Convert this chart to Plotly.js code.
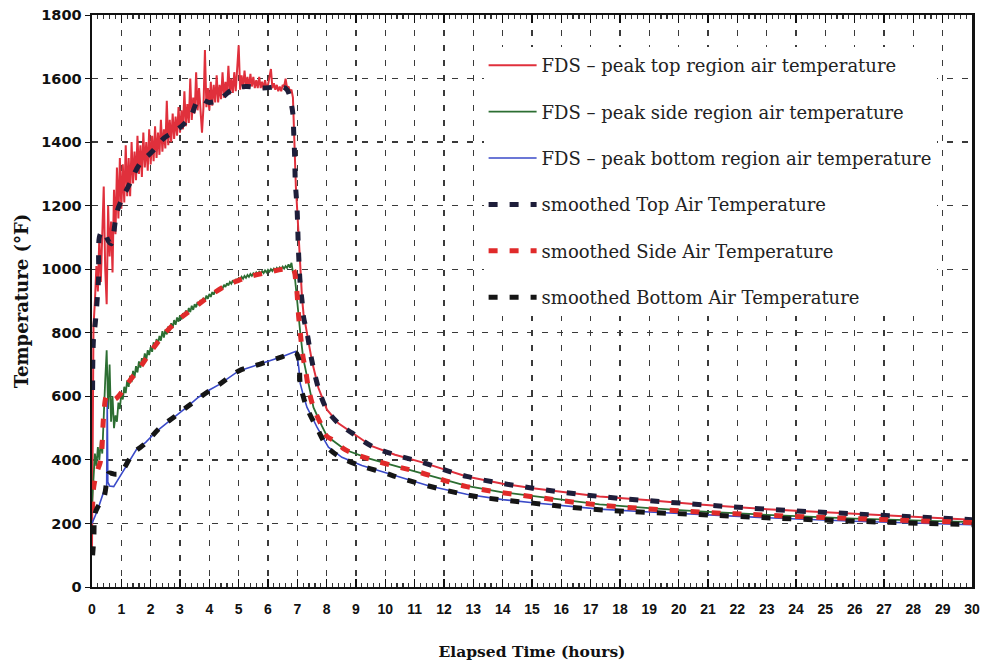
<!DOCTYPE html>
<html>
<head>
<meta charset="utf-8">
<script src="https://cdn.plot.ly/plotly-3.0.1.min.js"></script>
<style>html,body{margin:0;padding:0;background:#fff;}#chart{width:984px;height:664px;}</style>
</head>
<body>
<div id="chart"></div>
<script>
// Sample times (hours) for the high-resolution early part of the FDS records
const tEarly = [0,0.05,0.1,0.15,0.2,0.25,0.3,0.35,0.4,0.45,0.5,0.55,0.6,0.65,0.7,0.75,0.8,0.85,0.9,0.95,
1,1.05,1.1,1.15,1.2,1.25,1.3,1.35,1.4,1.45,1.5,1.55,1.6,1.65,1.7,1.75,1.8,1.85,1.9,1.95,
2,2.05,2.1,2.15,2.2,2.25,2.3,2.35,2.4,2.45,2.5,2.55,2.6,2.65,2.7,2.75,2.8,2.85,2.9,2.95,
3,3.05,3.1,3.15,3.2,3.25,3.3,3.35,3.4,3.45,3.5,3.55,3.6,3.65,3.7,3.75,3.8,3.85,3.9,3.95,
4,4.05,4.1,4.15,4.2,4.25,4.3,4.35,4.4,4.45,4.5,4.55,4.6,4.65,4.7,4.75,4.8,4.85,4.9,4.95,
5,5.05,5.1,5.15,5.2,5.25,5.3,5.35,5.4,5.45,5.5,5.55,5.6,5.65,5.7,5.75,5.8,5.85,5.9,5.95,
6,6.05,6.1,6.15,6.2,6.25,6.3,6.35,6.4,6.45,6.5,6.55,6.6,6.65,6.7,6.75,6.8,6.85];

// FDS peak top region air temperature (°F)
const topEarly = [120,820,900,1010,930,1100,960,1150,1260,1000,890,1200,1040,1150,990,1250,1110,1320,1160,1350,
1190,1330,1210,1390,1230,1350,1230,1400,1270,1370,1280,1420,1300,1390,1290,1430,1320,1400,1310,1440,
1330,1420,1340,1450,1350,1430,1360,1470,1370,1440,1380,1530,1390,1470,1400,1490,1410,1480,1420,1510,
1430,1500,1440,1560,1450,1520,1460,1600,1470,1540,1490,1620,1500,1570,1490,1430,1510,1690,1510,1570,
1500,1590,1515,1580,1525,1610,1525,1580,1535,1620,1540,1590,1545,1640,1550,1600,1555,1620,1560,1650,
1705,1565,1610,1570,1625,1575,1605,1570,1615,1575,1605,1570,1595,1570,1605,1570,1590,1565,1595,1570,
1580,1605,1630,1570,1585,1565,1580,1560,1575,1560,1580,1575,1600,1570,1575,1560,1565,1540];
const topLateT = [6.88,6.91,6.95,7.0,7.05,7.1,7.16,7.21,7.33,7.5,7.72,8.01,8.4,8.86,9.54,10.33,11.23,12.77,14,15.03,16,17.3,19,20.7,23,26,30];
const topLateV = [1450,1350,1260,1180,1090,1000,910,860,800,710,626,558,515,485,443,416,393,348,325,311,300,285,273,260,245,230,212];

// FDS peak side region air temperature (°F)
const sideEarly = [260,340,420,380,440,400,460,420,560,650,745,560,700,520,600,500,540,520,580,560,
610,590,630,610,650,630,665,645,680,660,695,675,710,690,720,705,735,715,745,730,
755,740,770,750,780,765,790,775,805,785,810,795,820,805,830,815,840,825,848,835,
855,842,862,850,870,858,878,865,885,872,890,880,897,887,903,893,910,900,917,907,
922,913,928,920,934,926,940,932,946,938,951,944,956,949,960,954,965,958,969,962,
972,966,976,970,979,973,982,976,985,979,987,982,990,984,992,986,994,988,996,990,
998,992,1000,994,1002,996,1004,998,1006,1000,1008,1002,1010,1004,1015,1005,1020,990];
const sideLateT = [6.9,6.95,7.0,7.05,7.1,7.2,7.27,7.38,7.44,7.55,7.84,8.01,8.3,8.63,9.42,10.22,11.12,12.77,14,15.03,16,17.3,19,20.7,23,26,30];
const sideLateV = [990,940,890,846,800,720,689,630,610,565,506,475,455,432,405,384,362,318,298,286,275,260,248,238,227,215,204];

// FDS peak bottom region air temperature (°F)
const botT = [0,0.05,0.1,0.2,0.3,0.4,0.5,0.52,0.54,0.6,0.74,0.9,1.07,1.3,1.53,1.83,2.2,2.6,3.0,3.19,3.6,4.0,4.33,4.7,5.0,5.5,6.0,6.5,6.93,7.0,7.05,7.1,7.2,7.33,7.5,7.67,8.06,8.52,9.2,9.99,10.5,11.5,12.77,14,15.03,16,17.3,19,20.7,23,26,30];
const botV = [200,215,222,245,275,300,316,590,330,318,316,340,369,400,435,455,490,520,548,563,595,620,637,662,680,695,710,725,741,725,690,640,605,565,535,503,440,408,382,360,345,318,292,275,265,256,245,236,228,218,207,196];

// Smoothed curves
const smTopT = [0.02,0.05,0.11,0.22,0.28,0.4,0.55,0.65,0.85,1.04,1.33,1.61,2.06,2.46,2.91,3.36,3.65,4.0,4.33,4.78,5.23,5.8,6.59,6.82,6.88,6.91,6.93,6.99,7.04,7.1,7.16,7.21,7.33,7.5,7.72,8.01,8.4,8.86,9.54,10.33,11.23,12.77,15.03,17.3,20.35,23,26,30];
const smTopV = [620,780,829,965,1110,1120,1090,1080,1180,1224,1277,1329,1371,1413,1439,1481,1535,1525,1533,1565,1575,1570,1570,1507,1423,1350,1277,1192,1056,951,900,850,800,710,626,558,515,485,443,416,393,348,311,285,262,245,230,212];

const smSideT = [0.02,0.06,0.2,0.3,0.4,0.5,0.6,0.75,0.9,1.1,1.3,1.65,2,2.5,3,3.5,4,4.5,5,5.5,6,6.5,6.85,6.95,7.05,7.1,7.2,7.27,7.38,7.55,7.84,8.0,8.3,8.63,9.42,10.22,11.12,12.77,15.03,17.3,20.7,23,26,30];
const smSideV = [240,316,370,400,540,600,600,590,600,625,651,693,740,800,845,880,915,945,965,980,990,1000,1000,960,846,800,720,689,626,565,506,475,458,432,404,383,362,316,284,258,236,226,215,203];

const smBotT = [0.02,0.06,0.11,0.25,0.4,0.5,0.57,0.8,0.96,1.41,1.83,2.3,2.8,3.19,3.8,4.33,5,5.5,6.02,6.5,6.93,7.04,7.1,7.2,7.33,7.67,8.06,8.52,9.2,9.99,10.5,12.77,15.03,17.3,20.7,23,26,30];
const smBotV = [100,150,233,260,280,330,358,355,358,421,453,500,535,563,605,637,680,695,710,725,738,720,637,600,563,500,437,406,380,359,343,290,264,243,228,218,207,196];

const seriesNames = [
  "FDS \u2013 peak top region air temperature",
  "FDS \u2013 peak side region air temperature",
  "FDS \u2013 peak bottom region air temperature",
  "smoothed Top Air Temperature",
  "smoothed Side Air Temperature",
  "smoothed Bottom Air Temperature"
];
const xTickVals = [0,1,2,3,4,5,6,7,8,9,10,11,12,13,14,15,16,17,18,19,20,21,22,23,24,25,26,27,28,29,30];
const yTickVals = [0,200,400,600,800,1000,1200,1400,1600,1800];

const smDash = "9px,12px";
const traces = [
  {x: tEarly.concat(topLateT), y: topEarly.concat(topLateV), name: seriesNames[0], legendgroup: "a",
   mode: "lines", line: {color: "#e0303c", width: 2}},
  {x: tEarly.concat(sideLateT), y: sideEarly.concat(sideLateV), name: seriesNames[1], legendgroup: "b",
   mode: "lines", line: {color: "#2c6e32", width: 1.8}},
  {x: botT, y: botV, name: seriesNames[2], legendgroup: "c",
   mode: "lines", line: {color: "#3a4ac8", width: 1.6}},
  {x: smTopT, y: smTopV, name: seriesNames[3], legendgroup: "d",
   mode: "lines", line: {color: "#1e1e3a", width: 5, dash: smDash, shape: "spline"}},
  {x: smSideT, y: smSideV, name: seriesNames[4], legendgroup: "e",
   mode: "lines", line: {color: "#e02a2a", width: 5, dash: smDash, shape: "spline"}},
  {x: smBotT, y: smBotV, name: seriesNames[5], legendgroup: "f",
   mode: "lines", line: {color: "#151515", width: 5, dash: smDash, shape: "spline"}}
];

const layout = {
  width: 984, height: 664,
  margin: {l: 92, r: 12, t: 15, b: 77},
  paper_bgcolor: "#fff", plot_bgcolor: "#fff",
  showlegend: true,
  legend: {
    x: 0.445, y: 0.944, xanchor: "left", yanchor: "top",
    bgcolor: "#fff", borderwidth: 0,
    font: {family: "DejaVu Serif", size: 18, color: "#222"},
    tracegroupgap: 20, itemwidth: 48
  },
  xaxis: {
    range: [0, 30], tickvals: xTickVals, ticktext: xTickVals.map(String),
    showgrid: true, gridcolor: "#3a3a3a", gridwidth: 1.3, griddash: "6px,9px",
    zeroline: false, showline: true, linecolor: "#111", linewidth: 2, mirror: "ticks",
    ticks: "inside", ticklen: 8, tickwidth: 1.2, tickcolor: "#111",
    minor: {dtick: 0.2, tick0: 0, ticks: "inside", ticklen: 4, tickcolor: "#333", showgrid: false},
    tickfont: {family: "Liberation Sans", size: 14, weight: "bold", color: "#111"},
    ticklabelstandoff: 8,
    title: {text: "Elapsed Time (hours)", standoff: 30,
            font: {family: "DejaVu Serif", size: 15.5, weight: "bold", color: "#111"}}
  },
  yaxis: {
    range: [0, 1800], tickvals: yTickVals,
    showgrid: true, gridcolor: "#3a3a3a", gridwidth: 1.3, griddash: "6px,9px",
    zeroline: false, showline: true, linecolor: "#111", linewidth: 2.5, mirror: true,
    ticks: "outside", ticklen: 5, tickcolor: "#111",
    tickfont: {family: "DejaVu Sans", size: 14.5, weight: "bold", color: "#111"},
    title: {text: "Temperature (\u00b0F)", standoff: 8,
            font: {family: "DejaVu Serif", size: 18, weight: "bold", color: "#111"}}
  }
};

Plotly.newPlot("chart", traces, layout, {staticPlot: true, displayModeBar: false});
</script>
</body>
</html>
